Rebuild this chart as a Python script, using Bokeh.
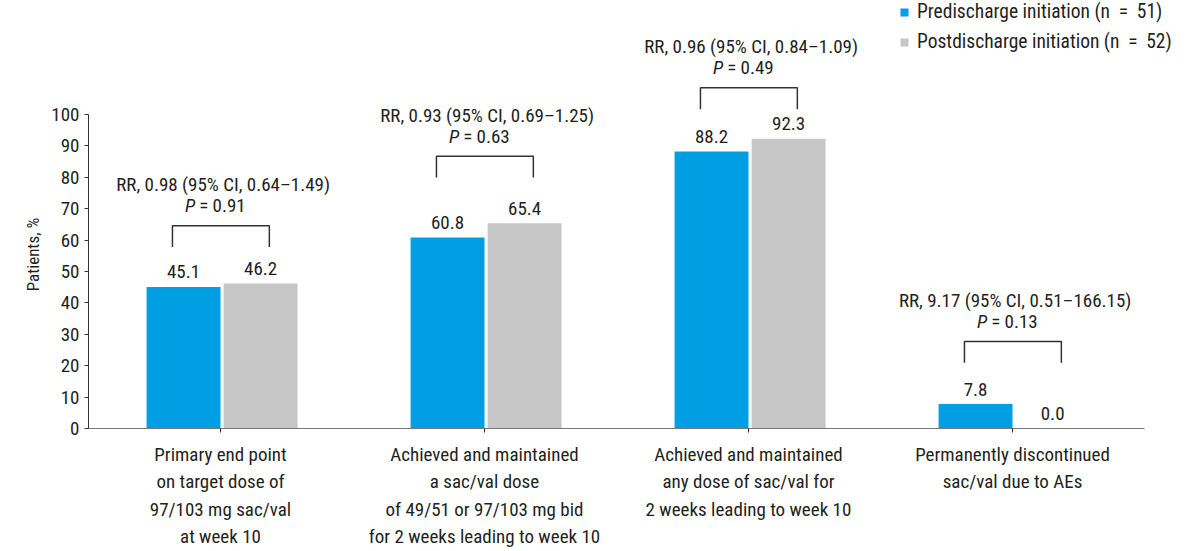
import math
from bokeh.plotting import figure
from bokeh.models import (Range1d, FixedTicker, Legend, LegendItem, ColumnDataSource, Label)
from bokeh.embed import file_html
from bokeh.resources import INLINE

FONT = "'Liberation Sans Narrow', 'Roboto Condensed', Roboto, sans-serif"

categories = [
    "Primary end point\non target dose of\n97/103 mg sac/val\nat week 10",
    "Achieved and maintained\na sac/val dose\nof 49/51 or 97/103 mg bid\nfor 2 weeks leading to week 10",
    "Achieved and maintained\nany dose of sac/val for\n2 weeks leading to week 10",
    "Permanently discontinued\nsac/val due to AEs",
]
pre_values = [45.1, 60.8, 88.2, 7.8]
post_values = [46.2, 65.4, 92.3, 0.0]
series_names = ["Predischarge initiation (n\u2002=\u200251)", "Postdischarge initiation (n\u2002=\u200252)"]
rr_labels = [
    "RR, 0.98 (95% CI, 0.64\u20131.49)",
    "RR, 0.93 (95% CI, 0.69\u20131.25)",
    "RR, 0.96 (95% CI, 0.84\u20131.09)",
    "RR, 9.17 (95% CI, 0.51\u2013166.15)",
]
p_labels = ["= 0.91", "= 0.63", "= 0.49", "= 0.13"]
y_ticks = list(range(0, 101, 10))
y_title = "Patients, %"

# layout constants (annotation bracket levels, in data units)
bracket_top = [64.6, 86.7, 108.5, 27.7]
BRACKET_H = 6.8
BAR_W = 0.28
PRE_OFF = -0.14
POST_OFF = 0.152

BLUE = "#009FE3"
GRAY = "#C6C6C6"
TXT = "#231F20"
FS = "19px"

n = len(categories)
centers = [i + 0.5 for i in range(n)]

# frame fills the whole canvas; axes are pinned at x=0 / y=0
p = figure(width=1198, height=551, output_backend="svg", toolbar_location=None,
           x_range=Range1d(-88 / 264, n + 54 / 264), y_range=Range1d(-123 / 3.14, 428 / 3.14),
           min_border=0)
p.outline_line_color = None
p.xgrid.visible = False
p.ygrid.visible = False
p.background_fill_color = "white"

src = ColumnDataSource(dict(
    xpre=[c + PRE_OFF for c in centers], xpost=[c + POST_OFF for c in centers],
    pre=pre_values, post=post_values,
    pre_lbl=[f"{v:.1f}" for v in pre_values], post_lbl=[f"{v:.1f}" for v in post_values],
))
r_pre = p.vbar(x="xpre", top="pre", width=BAR_W, source=src, fill_color=BLUE, line_color=None)
r_post = p.vbar(x="xpost", top="post", width=BAR_W, source=src, fill_color=GRAY, line_color=None)

p.text(x="xpre", y="pre", text="pre_lbl", source=src, text_align="center", text_baseline="alphabetic",
       y_offset=-15, text_font_size=FS, text_font={"value": FONT}, text_color=TXT)
p.text(x="xpost", y="post", text="post_lbl", source=src, text_align="center", text_baseline="alphabetic",
       y_offset=-15, text_font_size=FS, text_font={"value": FONT}, text_color=TXT)

# brackets
xs, ys = [], []
for c, t in zip(centers, bracket_top):
    l, r = c - 0.182, c + 0.185
    xs.append([l, l, r, r])
    ys.append([t - BRACKET_H, t, t, t - BRACKET_H])
p.multi_line(xs=xs, ys=ys, line_color="#333333", line_width=1.5)

ann = ColumnDataSource(dict(x=[c + 0.01 for c in centers], y=bracket_top, rr=rr_labels, pv=p_labels,
                            pp=["P"] * n))
p.text(x="x", y="y", text="rr", source=ann, text_align="center", text_baseline="middle", y_offset=-41,
       text_font_size=FS, text_font={"value": FONT}, text_color=TXT)
p.text(x="x", y="y", text="pp", source=ann, text_align="right", text_baseline="middle", y_offset=-20,
       x_offset=-28, text_font_size=FS, text_font={"value": FONT}, text_font_style="italic", text_color=TXT)
p.text(x="x", y="y", text="pv", source=ann, text_align="left", text_baseline="middle", y_offset=-20,
       x_offset=-24, text_font_size=FS, text_font={"value": FONT}, text_color=TXT)

# axes
xa = p.xaxis[0]
xa.fixed_location = 0
xa.bounds = (0, n)
xa.ticker = FixedTicker(ticks=centers)
xa.major_label_overrides = {c: lab for c, lab in zip(centers, categories)}
xa.major_label_text_font = FONT
xa.major_label_text_font_size = FS
xa.major_label_text_color = TXT
xa.major_label_text_line_height = 1.2
xa.major_label_standoff = 10
xa.major_tick_out = 4
xa.major_tick_in = 0
xa.minor_tick_line_color = None
xa.axis_line_color = "#777777"
xa.major_tick_line_color = "#333333"

ya = p.yaxis[0]
ya.fixed_location = 0
ya.ticker = FixedTicker(ticks=y_ticks)
ya.bounds = (0, 100)
ya.major_label_text_font = FONT
ya.major_label_text_font_size = FS
ya.major_label_text_color = TXT
ya.major_tick_out = 4
ya.major_tick_in = 0
ya.minor_tick_line_color = None
ya.axis_line_color = "#333333"
ya.major_tick_line_color = "#333333"
ya.major_label_standoff = 5

p.add_layout(Label(x=-0.212, y=55.4, text=y_title, angle=math.pi / 2, text_align="center",
                   text_baseline="middle", text_font=FONT, text_font_size="17px", text_color=TXT))

legend = Legend(items=[LegendItem(label=series_names[0], renderers=[r_pre]),
                       LegendItem(label=series_names[1], renderers=[r_post])],
                location=(899, 498), glyph_width=10, glyph_height=10, label_height=20,
                spacing=7, padding=0, margin=0, label_standoff=8,
                label_text_font=FONT, label_text_font_size="19.5px", label_text_color=TXT,
                border_line_color=None, background_fill_alpha=0)
p.add_layout(legend)

open("out.html", "w").write(file_html(p, INLINE))
